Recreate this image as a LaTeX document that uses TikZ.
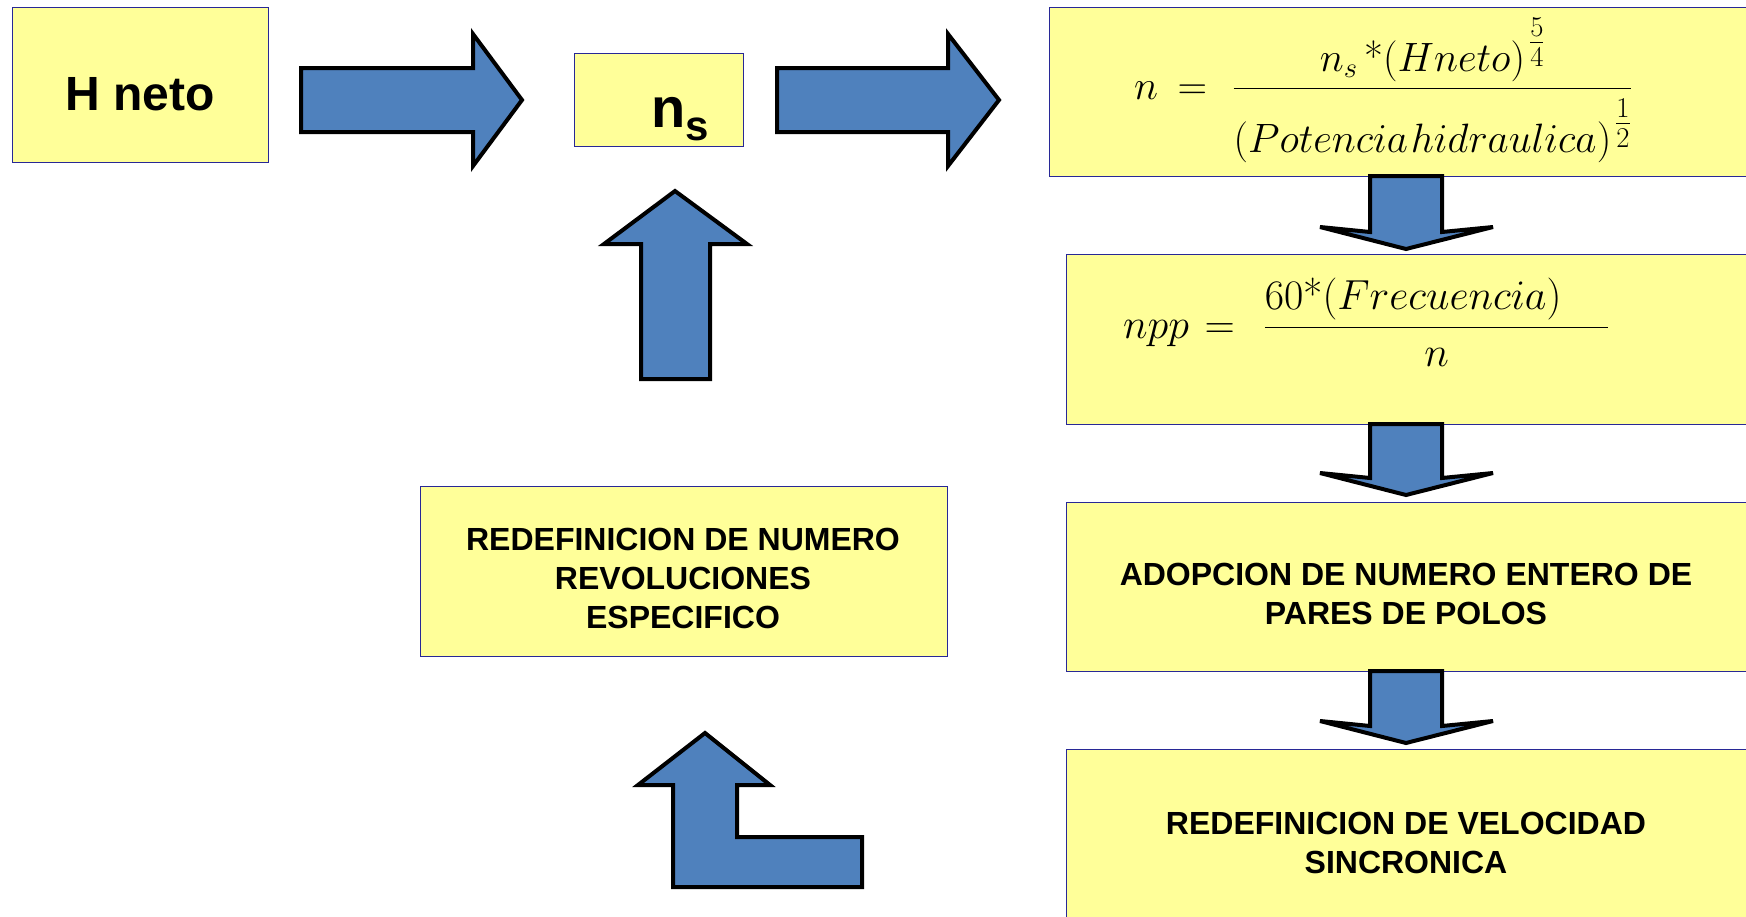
\RequirePackage{fix-cm}
\documentclass[tikz,border=0pt]{standalone}
\usepackage[no-math]{fontspec}
\setsansfont{Liberation Sans}
\usepackage{amsmath}
\usetikzlibrary{calc}
\definecolor{boxfill}{RGB}{255,255,153}
\definecolor{boxline}{RGB}{40,40,150}
\definecolor{arrowblue}{RGB}{79,129,189}
\tikzset{
  panel/.style={draw=boxline, fill=boxfill, line width=1.3pt, inner sep=0pt, anchor=north west},
  blockarrow/.style={draw=black, fill=arrowblue, line width=4pt, line join=miter},
  caption/.style={font=\sffamily\bfseries\fontsize{32}{39}\selectfont, align=center, inner sep=0pt, anchor=north},
  formula/.style={font=\fontsize{42}{50}\selectfont, inner sep=0pt, anchor=base west}
}
\newcommand{\rightblock}[3]{%
  \draw[blockarrow] (#1,68) -- (#2,68) -- (#2,34) -- (#3,100) -- (#2,166) -- (#2,132) -- (#1,132) -- cycle;
}
\newcommand{\downblock}[3]{%
  \draw[blockarrow] (#1-36,#2) -- (#1+36,#2) -- (#1+36,#3-17) -- (#1+87,#3-22) -- (#1,#3)
    -- (#1-86,#3-22) -- (#1-36,#3-17) -- cycle;
}
\newcommand{\expfrac}[2]{\hspace{4pt}\genfrac{}{}{}{1}{#1}{#2}}

\begin{document}
\begin{tikzpicture}[x=1pt, y=-1pt]
    \useasboundingbox (0,0) rectangle (1746,916);

    \node[panel, minimum width=256pt, minimum height=155pt] (hbox) at (12,7) {};
    \node[panel, minimum width=169pt, minimum height=93pt] (nsbox) at (574,53) {};
    \node[panel, minimum width=701pt, minimum height=169pt] (eqbox) at (1049,7) {};
    \node[panel, minimum width=684pt, minimum height=170pt] (nppbox) at (1066,254) {};
    \node[panel, minimum width=684pt, minimum height=169pt] (polbox) at (1066,502) {};
    \node[panel, minimum width=684pt, minimum height=171pt] (velbox) at (1066,749) {};
    \node[panel, minimum width=527pt, minimum height=170pt] (revbox) at (420,486) {};

    \node[font=\sffamily\bfseries\fontsize{48}{48}\selectfont, inner sep=0pt, anchor=base] (hneto) at (140,110) {H neto};
    \node[inner sep=0pt, anchor=base west] (ns) at (651,127)
        {\sffamily\bfseries\fontsize{56}{56}\selectfont n\raisebox{-13pt}{\fontsize{42}{42}\selectfont s}};

    \node[formula, font=\fontsize{41}{49}\selectfont] (neq) at (1134,99)
        {$n\hspace{8pt}=\hspace{14pt}\dfrac{n_{s}\,\text{*}(Hneto)^{\expfrac{5}{4}}}
          {\rule{0pt}{60pt}(Potencia\hspace{3pt}hidraulica)^{\expfrac{1}{2}}}$};
    \node[formula] (nppeq) at (1123,338)
        {$npp\hspace{4pt}=\hspace{17pt}\dfrac{60\text{*}(Frecuencia)\hspace{47pt}}{n}$};

    \node[caption] (revtext) at (683,528) {REDEFINICION DE NUMERO\\REVOLUCIONES\\ESPECIFICO};
    \node[caption] (poltext) at (1406,563) {ADOPCION DE NUMERO ENTERO DE\\PARES DE POLOS};
    \node[caption] (veltext) at (1406,812) {REDEFINICION DE VELOCIDAD\\SINCRONICA};

    \rightblock{301}{473}{522}
    \rightblock{777}{948}{999}

    \downblock{1406}{176}{249}
    \downblock{1406}{424}{495}
    \downblock{1406}{671}{743}

    \draw[blockarrow] (641,379) -- (641,244) -- (604,244) -- (675,191) -- (747,244) -- (710,244) -- (710,379) -- cycle;
    \draw[blockarrow] (673,887) -- (673,785) -- (638,785) -- (705,733) -- (770,785) -- (737,785)
        -- (737,837) -- (862,837) -- (862,887) -- cycle;
\end{tikzpicture}
\end{document}
